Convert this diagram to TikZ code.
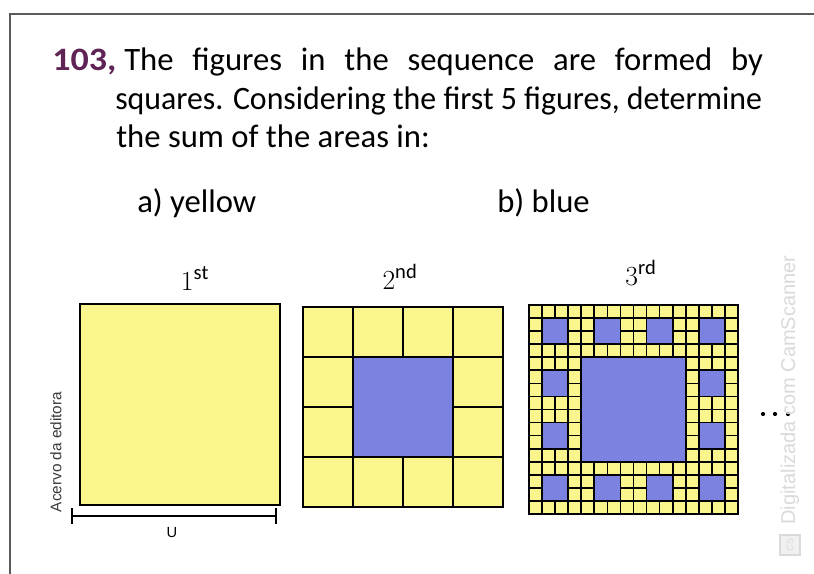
\documentclass[tikz,border=0pt]{standalone}
\usepackage{fontspec}
\setmainfont{Carlito}
\newfontfamily\credfont{Liberation Sans}
\usepackage{tikz}
\usepackage{xcolor}
\usepackage{graphicx}

\definecolor{sqyellow}{RGB}{250,245,140}
\definecolor{sqblue}{RGB}{124,130,224}
\definecolor{numpurple}{RGB}{95,35,85}
\definecolor{framegray}{RGB}{90,90,90}
\definecolor{markgray}{RGB}{218,218,218}

\begin{document}
\begin{tikzpicture}[x=0.75pt,y=0.75pt,yscale=-1,xscale=1,
  yellowcell/.style={fill=sqyellow,draw=black,line width=0.9pt},
  bluecell/.style={fill=sqblue,draw=black,line width=0.9pt},
  outline/.style={draw=black,line width=1.3pt},
  bodytext/.style={anchor=base west,inner sep=0pt,font=\fontsize{24.5}{29}\selectfont},
  ordlabel/.style={anchor=base,inner sep=0pt,font=\fontsize{22}{26}\selectfont}]
\useasboundingbox (0,0) rectangle (814,574);
\fill[white] (0,0) rectangle (814,574);

%Frame
\draw [framegray,line width=1.6pt] (814,14) -- (10,14) -- (10,574) ;

% Text Node
\node [bodytext,text=numpurple] (num) at (52,71) {\resizebox{48pt}{\height}{\bfseries 103,}};
% Text Node
\node [bodytext] (line1) at (124,71) {\makebox[479pt][s]{The figures in the sequence are formed by}};
% Text Node
\node [bodytext] (line2) at (115,110) {\resizebox{485pt}{\height}{squares. Considering the first 5 figures, determine}};
% Text Node
\node [bodytext] (line3) at (116,148) {the sum of the areas in:};
% Text Node
\node [bodytext] (parta) at (137,213) {a) yellow};
% Text Node
\node [bodytext] (partb) at (497,213) {b) blue};

% Text Node
\node [ordlabel] (ord1) at (195,290) {$1^{\mathrm{st}}$};
% Text Node
\node [ordlabel] (ord2) at (400,289) {$2^{\mathrm{nd}}$};
% Text Node
\node [ordlabel] (ord3) at (641,285) {$3^{\mathrm{rd}}$};

%Shape: Square (1st)
\draw [yellowcell,line width=1.3pt] (80,304) rectangle (280,505) ;
%Scale bar
\coordinate (barL) at (72,516);
\coordinate (barR) at (276,516);
\draw [line width=1.2pt] (barL) -- (barR) ;
\draw [line width=1.2pt] ([yshift=-6]barL) -- ([yshift=6]barL) ;
\draw [line width=1.2pt] ([yshift=-6]barR) -- ([yshift=6]barR) ;
% Text Node
\node [inner sep=0.75pt,font=\credfont\fontsize{11}{11}\selectfont] (unit) at (172,533) {U};
% Text Node
\node [rotate=90,inner sep=0.75pt,text={rgb,255:red,60;green,60;blue,60},font=\credfont\fontsize{11.5}{12}\selectfont] (credit) at (56,452) {Acervo da editora};

%Shape: Grid (2nd)
\begin{scope}[shift={(303,307)}]
\foreach \i in {0,...,3}
  \foreach \j in {0,...,3}
    \draw [yellowcell] (\i*50,\j*50) rectangle ++(50,50) ;
\draw [bluecell] (50,50) rectangle (150,150) ;
\draw [outline] (0,0) rectangle (200,200) ;
\end{scope}

%Shape: Grid (3rd)
\begin{scope}[shift={(529,305)}]
\def\cw{13.0625}
\foreach \i in {0,...,15}
  \foreach \j in {0,...,15}
    \draw [yellowcell,line width=1.3pt] (\i*\cw,\j*\cw) rectangle ++(\cw,\cw) ;
\draw [bluecell,line width=1.3pt] (4*\cw,4*\cw) rectangle (12*\cw,12*\cw) ;
\foreach \bi/\bj in {0/0,1/0,2/0,3/0,0/1,3/1,0/2,3/2,0/3,1/3,2/3,3/3}
  \draw [bluecell,line width=1.3pt] ({(4*\bi+1)*\cw},{(4*\bj+1)*\cw}) rectangle ++({2*\cw},{2*\cw}) ;
\draw [outline,line width=1.5pt] (0,0) rectangle (16*\cw,16*\cw) ;
\end{scope}

%Dots
\foreach \x in {763,775,788}
  \fill (\x,414) circle (2.1) ;

%Watermark
\node [rotate=90,inner sep=0.75pt,text=markgray,font=\credfont\fontsize{15}{15}\selectfont] (scan) at (790,390) {Digitalizada com CamScanner};
\node [draw=markgray,fill=markgray!40,line width=1pt,minimum size=15,inner sep=0pt,rotate=90,text=markgray,font=\credfont\fontsize{7}{7}\selectfont] (scanicon) at (790,545) {CS};

\end{tikzpicture}
\end{document}
